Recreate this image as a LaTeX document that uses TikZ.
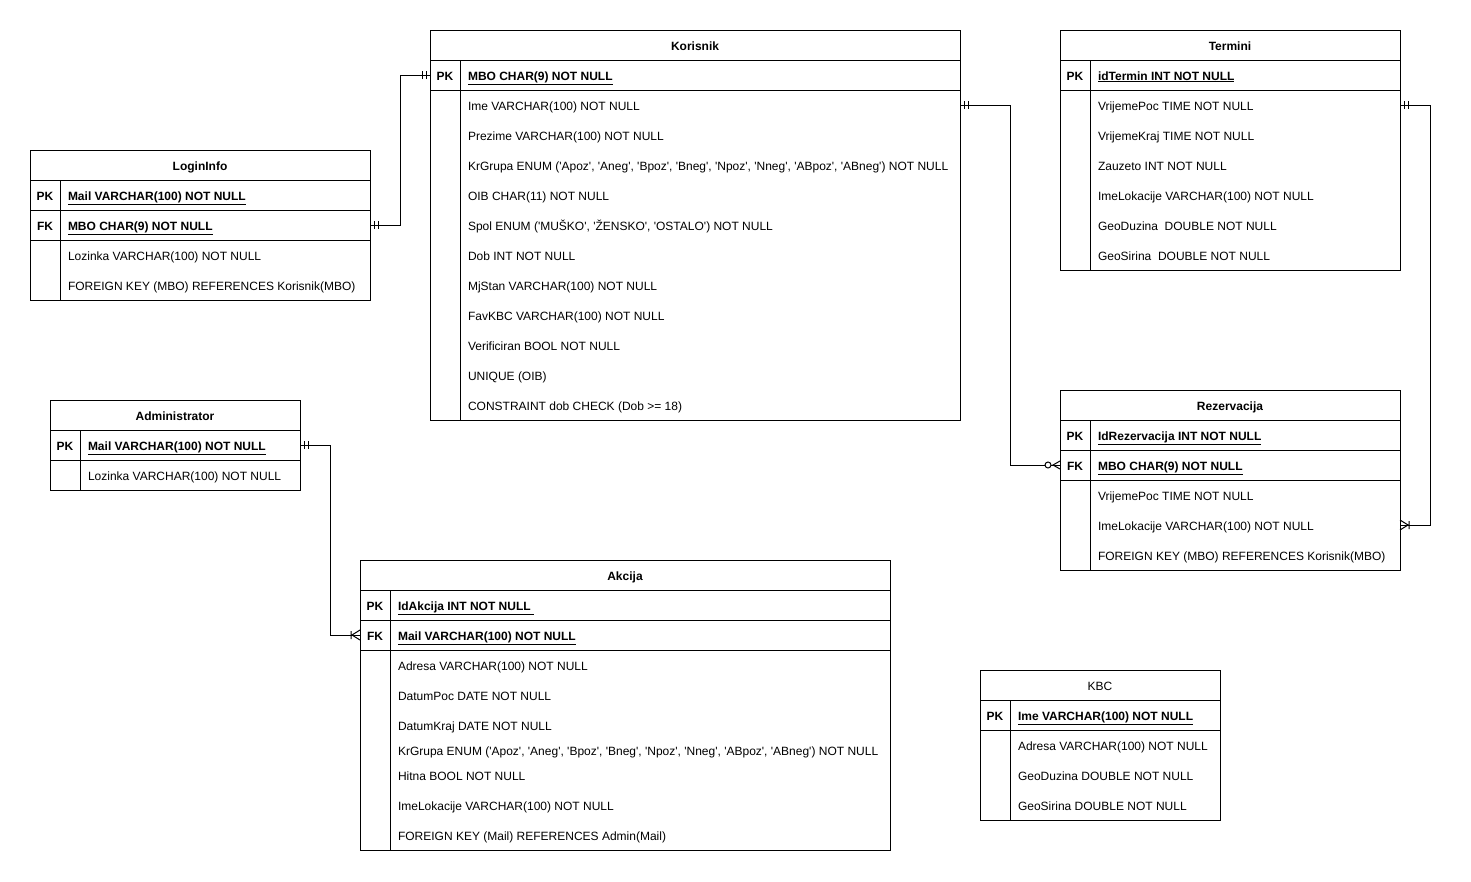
\documentclass[tikz,border=0pt]{standalone}
\usepackage{fontspec}
\newfontfamily\erfont{Liberation Sans}
\usetikzlibrary{calc}
\tikzset{
  pics/mandone/.style={code={\draw (4,-4) -- (4,4) (8,-4) -- (8,4);}},
  pics/onemany/.style={code={\draw (0,-5) -- (8,0) -- (0,5) (9,-4) -- (9,4);}},
  pics/zeromany/.style={code={\draw (0,-4) -- (7,0) -- (0,4); \draw[fill=white] (12,0) circle[radius=3pt];}},
}
\begin{document}
\begin{tikzpicture}[x=1pt, y=-1pt, line width=1pt,
  every node/.style={font=\erfont\fontsize{12}{14}\selectfont, inner sep=0pt, outer sep=0pt},
  tbrow/.style={draw, minimum height=30pt},
  tbhead/.style={tbrow, font=\erfont\bfseries\fontsize{12}{14}\selectfont, text height=10pt, text depth=0pt},
  keytx/.style={font=\erfont\bfseries\fontsize{12}{14}\selectfont, text height=10pt, text depth=0pt},
  fld/.style={anchor=west, text height=10pt, text depth=0pt},
  fldkey/.style={fld, font=\erfont\bfseries\fontsize{12}{14}\selectfont}]
  \fill[white] (0,0) rectangle (1471,881);
  \useasboundingbox (0,0) rectangle (1471,881);

  % Korisnik
  \node[tbhead, minimum width=530pt] (koHead) at (695,45) {Korisnik};
  \node[tbrow, minimum width=530pt] (koPK) at (695,75) {};
  \node[tbrow, minimum width=530pt, minimum height=330pt] (koBody) at (695,255) {};
  \draw (460,60) -- (460,420);
  \node[keytx] (koK1) at (445,75) {PK};
  \node[fldkey] (koF0) at (468,75) {\underline{MBO CHAR(9) NOT NULL}};
  \foreach \txt [count=\i] in {Ime VARCHAR(100) NOT NULL, Prezime VARCHAR(100) NOT NULL,
      {KrGrupa ENUM ('Apoz', 'Aneg', 'Bpoz', 'Bneg', 'Npoz', 'Nneg', 'ABpoz', 'ABneg') NOT NULL},
      OIB CHAR(11) NOT NULL, {Spol ENUM ('MUŠKO', 'ŽENSKO', 'OSTALO') NOT NULL},
      Dob INT NOT NULL, MjStan VARCHAR(100) NOT NULL, FavKBC VARCHAR(100) NOT NULL,
      Verificiran BOOL NOT NULL, UNIQUE (OIB), CONSTRAINT dob CHECK (Dob >= 18)}
    \node[fld] (koF\i) at (468,75+30*\i) {\txt};

  % Termini
  \node[tbhead, minimum width=340pt] (teHead) at (1230,45) {Termini};
  \node[tbrow, minimum width=340pt] (tePK) at (1230,75) {};
  \node[tbrow, minimum width=340pt, minimum height=180pt] (teBody) at (1230,180) {};
  \draw (1090,60) -- (1090,270);
  \node[keytx] (teK1) at (1075,75) {PK};
  \node[fldkey] (teF0) at (1098,75) {\underline{idTermin INT NOT NULL}};
  \foreach \txt [count=\i] in {VrijemePoc TIME NOT NULL, VrijemeKraj TIME NOT NULL,
      Zauzeto INT NOT NULL, ImeLokacije VARCHAR(100) NOT NULL,
      GeoDuzina\ \ DOUBLE NOT NULL, GeoSirina\ \ DOUBLE NOT NULL}
    \node[fld] (teF\i) at (1098,75+30*\i) {\txt};

  % LoginInfo
  \node[tbhead, minimum width=340pt] (loHead) at (200,165) {LoginInfo};
  \node[tbrow, minimum width=340pt] (loPK) at (200,195) {};
  \node[tbrow, minimum width=340pt] (loFK) at (200,225) {};
  \node[tbrow, minimum width=340pt, minimum height=60pt] (loBody) at (200,270) {};
  \draw (60,180) -- (60,300);
  \node[keytx] (loK1) at (45,195) {PK};
  \node[keytx] (loK2) at (45,225) {FK};
  \node[fldkey] (loF1) at (68,195) {\underline{Mail VARCHAR(100) NOT NULL}};
  \node[fldkey] (loF2) at (68,225) {\underline{MBO CHAR(9) NOT NULL}};
  \node[fld] (loF3) at (68,255) {Lozinka VARCHAR(100) NOT NULL};
  \node[fld] (loF4) at (68,285) {FOREIGN KEY (MBO) REFERENCES Korisnik(MBO)};

  % Administrator
  \node[tbhead, minimum width=250pt] (adHead) at (175,415) {Administrator};
  \node[tbrow, minimum width=250pt] (adPK) at (175,445) {};
  \node[tbrow, minimum width=250pt] (adBody) at (175,475) {};
  \draw (80,430) -- (80,490);
  \node[keytx] (adK1) at (65,445) {PK};
  \node[fldkey] (adF1) at (88,445) {\underline{Mail VARCHAR(100) NOT NULL}};
  \node[fld] (adF2) at (88,475) {Lozinka VARCHAR(100) NOT NULL};

  % Rezervacija
  \node[tbhead, minimum width=340pt] (rzHead) at (1230,405) {Rezervacija};
  \node[tbrow, minimum width=340pt] (rzPK) at (1230,435) {};
  \node[tbrow, minimum width=340pt] (rzFK) at (1230,465) {};
  \node[tbrow, minimum width=340pt, minimum height=90pt] (rzBody) at (1230,525) {};
  \draw (1090,420) -- (1090,570);
  \node[keytx] (rzK1) at (1075,435) {PK};
  \node[keytx] (rzK2) at (1075,465) {FK};
  \node[fldkey] (rzF1) at (1098,435) {\underline{IdRezervacija INT NOT NULL}};
  \node[fldkey] (rzF2) at (1098,465) {\underline{MBO CHAR(9) NOT NULL}};
  \node[fld] (rzF3) at (1098,495) {VrijemePoc TIME NOT NULL};
  \node[fld] (rzF4) at (1098,525) {ImeLokacije VARCHAR(100) NOT NULL};
  \node[fld] (rzF5) at (1098,555) {FOREIGN KEY (MBO) REFERENCES Korisnik(MBO)};

  % Akcija
  \node[tbhead, minimum width=530pt] (akHead) at (625,575) {Akcija};
  \node[tbrow, minimum width=530pt] (akPK) at (625,605) {};
  \node[tbrow, minimum width=530pt] (akFK) at (625,635) {};
  \node[tbrow, minimum width=530pt, minimum height=200pt] (akBody) at (625,750) {};
  \draw (390,590) -- (390,850);
  \node[keytx] (akK1) at (375,605) {PK};
  \node[keytx] (akK2) at (375,635) {FK};
  \node[fldkey] (akF1) at (398,605) {\underline{IdAkcija INT NOT NULL\ }};
  \node[fldkey] (akF2) at (398,635) {\underline{Mail VARCHAR(100) NOT NULL}};
  \node[fld] (akF3) at (398,665) {Adresa VARCHAR(100) NOT NULL};
  \node[fld] (akF4) at (398,695) {DatumPoc DATE NOT NULL};
  \node[fld] (akF5) at (398,725) {DatumKraj DATE NOT NULL};
  \node[fld] (akF6) at (398,750) {KrGrupa ENUM ('Apoz', 'Aneg', 'Bpoz', 'Bneg', 'Npoz', 'Nneg', 'ABpoz', 'ABneg') NOT NULL};
  \node[fld] (akF7) at (398,775) {Hitna BOOL NOT NULL};
  \node[fld] (akF8) at (398,805) {ImeLokacije VARCHAR(100) NOT NULL};
  \node[fld] (akF9) at (398,835) {FOREIGN KEY (Mail) REFERENCES Admin(Mail)};

  % KBC
  \node[tbhead, minimum width=240pt, font=\erfont\fontsize{12}{14}\selectfont] (kbHead) at (1100,685) {KBC};
  \node[tbrow, minimum width=240pt] (kbPK) at (1100,715) {};
  \node[tbrow, minimum width=240pt, minimum height=90pt] (kbBody) at (1100,775) {};
  \draw (1010,700) -- (1010,820);
  \node[keytx] (kbK1) at (995,715) {PK};
  \node[fldkey] (kbF1) at (1018,715) {\underline{Ime VARCHAR(100) NOT NULL}};
  \node[fld] (kbF2) at (1018,745) {Adresa VARCHAR(100) NOT NULL};
  \node[fld] (kbF3) at (1018,775) {GeoDuzina DOUBLE NOT NULL};
  \node[fld] (kbF4) at (1018,805) {GeoSirina DOUBLE NOT NULL};

  % veze
  \draw (loFK.east) -- ++(30,0) |- (koPK.west);
  \pic at (loFK.east) {mandone};
  \pic[rotate=180] at (koPK.west) {mandone};

  \draw ($(koBody.north east)+(0,15)$) -- ++(50,0) |- (rzFK.west);
  \pic at ($(koBody.north east)+(0,15)$) {mandone};
  \pic[rotate=180] at (rzFK.west) {zeromany};

  \draw ($(teBody.north east)+(0,15)$) -- ++(30,0) |- ($(rzBody.north east)+(0,45)$);
  \pic at ($(teBody.north east)+(0,15)$) {mandone};
  \pic at ($(rzBody.north east)+(0,45)$) {onemany};

  \draw (adPK.east) -- ++(30,0) |- (akFK.west);
  \pic at (adPK.east) {mandone};
  \pic[rotate=180] at (akFK.west) {onemany};
\end{tikzpicture}
\end{document}
